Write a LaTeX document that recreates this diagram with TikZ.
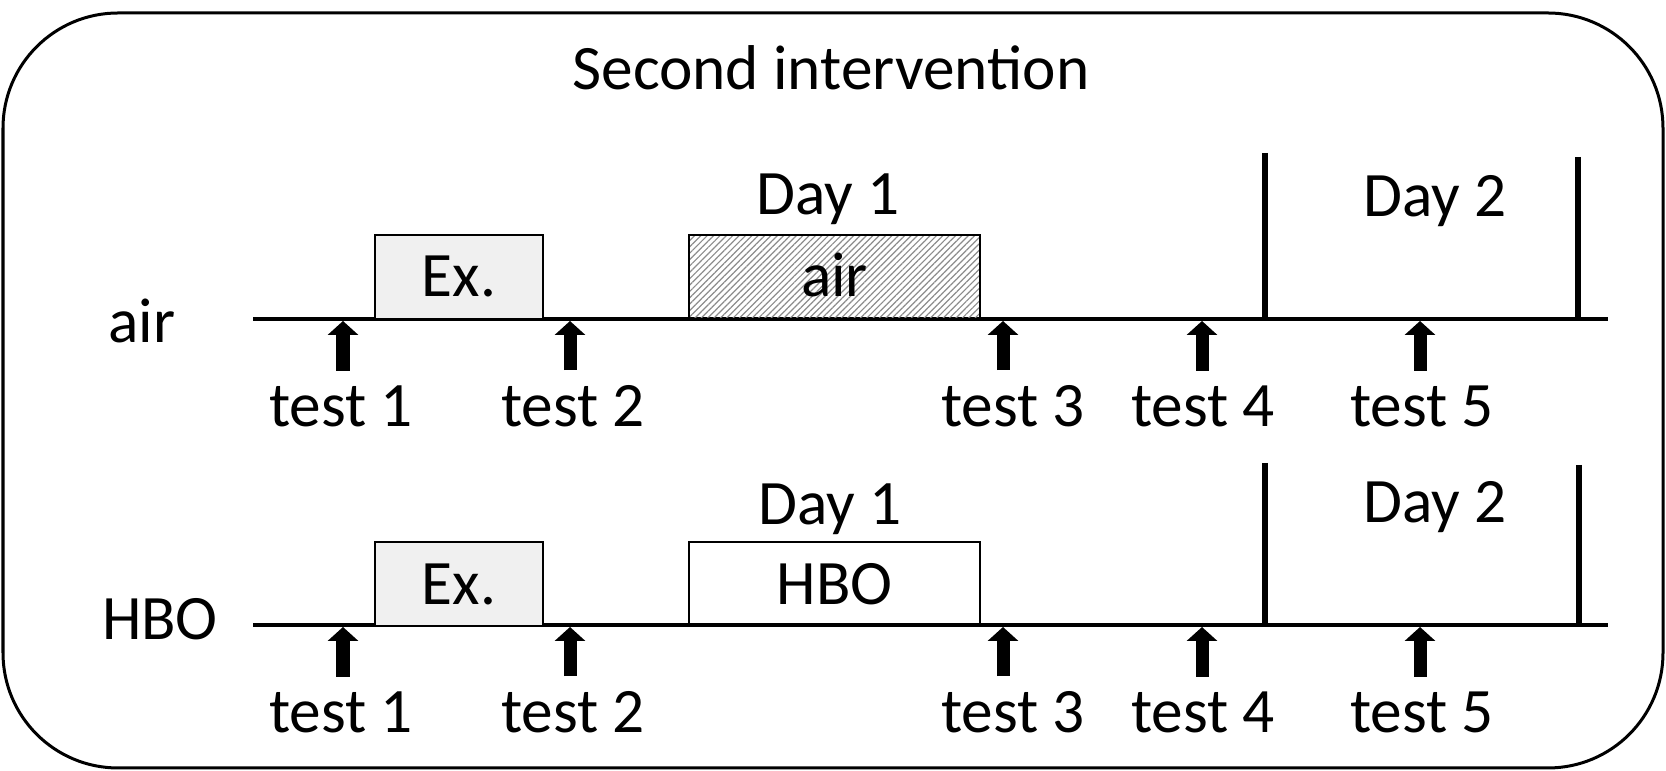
\documentclass[tikz,border=0pt]{standalone}
\usepackage{fontspec}
\setmainfont{Carlito}
\usetikzlibrary{arrows.meta,patterns.meta}
\begin{document}
\begin{tikzpicture}[x=0.01cm,y=-0.01cm,font=\fontsize{18}{22}\selectfont,
  txt/.style={anchor=base,inner sep=0pt},
  tline/.style={line width=0.04cm},
  daybar/.style={line width=0.065cm},
  phase/.style={draw,line width=0.025cm,minimum height=0.84cm,text height=0.4cm,text depth=0pt,inner sep=0pt},
  exbox/.style={phase,fill=black!6,minimum width=1.68cm},
  treatbox/.style={phase,minimum width=2.91cm},
  hatch/.style={pattern={Lines[angle=45,distance=0.045cm,line width=0.012cm]},pattern color=black!45},
  tarrow/.style={line width=0.13cm,-{Triangle[width=0.3cm,length=0.14cm]},shorten <=0.15cm}]
  \path[use as bounding box] (0,0) rectangle (1666,771);
  \draw[line width=0.03cm,rounded corners=1.15cm] (3,13) rectangle (1663,768);
  \node[txt] (title) at (831,90){Second intervention};
  % air row
  \coordinate (ua0) at (253,319);
  \coordinate (ua1) at (1608,319);
  \draw[tline] (ua0) -- (ua1);
  \node[txt] (rowair) at (142,343){air};
  \node[exbox] (exair) at (459,277){Ex.};
  \node[treatbox,hatch] (bair) at (834.5,277){};
  \node[treatbox] at (bair){air};
  \node[txt] (d1air) at (828,215){Day 1};
  \node[txt] (d2air) at (1435,217){Day 2};
  \draw[daybar] (1265,153) -- (1265,319);
  \draw[daybar] (1578,157) -- (1578,319);
  \node[txt] (ta1) at (341,427){test 1};
  \node[txt] (ta2) at (573,427){test 2};
  \node[txt] (ta3) at (1013,427){test 3};
  \node[txt] (ta4) at (1203,427){test 4};
  \node[txt] (ta5) at (1422,427){test 5};
  \coordinate (aa1) at (343,321);
  \coordinate (aa2) at (570,321);
  \coordinate (aa3) at (1003,321);
  \coordinate (aa4) at (1202,321);
  \coordinate (aa5) at (1420,321);
  \foreach \i in {1,...,5}
    \draw[tarrow] (aa\i |- ta\i.north) -- (aa\i);
  % HBO row
  \coordinate (uh0) at (253,625);
  \coordinate (uh1) at (1608,625);
  \draw[tline] (uh0) -- (uh1);
  \node[txt] (rowhbo) at (160,640){HBO};
  \node[exbox] (exhbo) at (459,584){Ex.};
  \node[treatbox] (bhbo) at (834.5,584){HBO};
  \node[txt] (d1hbo) at (830,525){Day 1};
  \node[txt] (d2hbo) at (1435,523){Day 2};
  \draw[daybar] (1265,463) -- (1265,625);
  \draw[daybar] (1579,465) -- (1579,625);
  \node[txt] (th1) at (341,733){test 1};
  \node[txt] (th2) at (573,733){test 2};
  \node[txt] (th3) at (1013,733){test 3};
  \node[txt] (th4) at (1203,733){test 4};
  \node[txt] (th5) at (1422,733){test 5};
  \coordinate (ah1) at (343,627);
  \coordinate (ah2) at (570,627);
  \coordinate (ah3) at (1003,627);
  \coordinate (ah4) at (1202,627);
  \coordinate (ah5) at (1420,627);
  \foreach \i in {1,...,5}
    \draw[tarrow] (ah\i |- th\i.north) -- (ah\i);
\end{tikzpicture}
\end{document}
